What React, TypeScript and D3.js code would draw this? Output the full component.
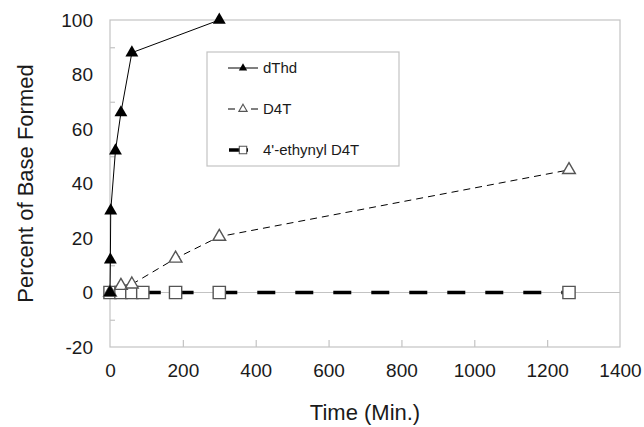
import React, { useEffect, useRef } from "react";
import * as d3 from "d3";

// time in minutes, percent of base formed
const dThdTime = [0, 1, 2, 15, 30, 60, 300];
const dThdValue = [0, 12, 30, 52, 66, 88, 100];

const d4tTime = [0, 30, 60, 180, 300, 1260];
const d4tValue = [0, 2.5, 3, 12.5, 20.5, 45];

const ethynylTime = [0, 30, 60, 90, 180, 300, 1260];
const ethynylValue = [0, 0, 0, 0, 0, 0, 0];

const seriesNames = ["dThd", "D4T", "4'-ethynyl D4T"];

const xTicks = [0, 200, 400, 600, 800, 1000, 1200, 1400];
const yTicks = [-20, 0, 20, 40, 60, 80, 100];
const yMarks = [-10, 10, 30, 50, 70, 90];

const FONT = "'Liberation Sans', Arial, Helvetica, sans-serif";

const App = () => {
  const svgRef = useRef<SVGSVGElement>(null);

  useEffect(() => {
    const width = 644;
    const height = 427;
    const margin = { top: 20, right: 24, bottom: 80, left: 110 };

    const svg = d3.select(svgRef.current);
    svg.selectAll("*").remove();
    svg.attr("width", width).attr("height", height);

    const x = d3.scaleLinear().domain([0, 1400]).range([margin.left, width - margin.right]);
    const y = d3.scaleLinear().domain([-20, 100]).range([height - margin.bottom, margin.top]);

    const frame = "#c3c3c3";

    // plot frame
    svg.append("rect")
      .attr("x", x(0))
      .attr("y", y(100))
      .attr("width", x(1400) - x(0))
      .attr("height", y(-20) - y(100))
      .attr("fill", "white")
      .attr("stroke", frame)
      .attr("stroke-width", 1.2);

    // zero line
    svg.append("line")
      .attr("x1", x(0)).attr("x2", x(1400))
      .attr("y1", y(0)).attr("y2", y(0))
      .attr("stroke", frame)
      .attr("stroke-width", 1.2);

    // inner tick marks
    svg.append("g")
      .attr("transform", `translate(0,${y(-20)})`)
      .call(d3.axisTop(x).tickValues(xTicks.slice(1, -1)).tickSize(7).tickFormat(() => ""))
      .call(g => g.select(".domain").remove())
      .selectAll("line").attr("stroke", frame).attr("stroke-width", 1.2);

    svg.append("g")
      .attr("transform", `translate(${x(0)},0)`)
      .call(d3.axisRight(y).tickValues(yMarks).tickSize(5).tickFormat(() => ""))
      .call(g => g.select(".domain").remove())
      .selectAll("line").attr("stroke", frame).attr("stroke-width", 1.2);

    // tick labels (plain hyphen for negatives)
    const xa = svg.append("g")
      .attr("transform", `translate(0,${y(-20)})`)
      .call(d3.axisBottom(x).tickValues(xTicks).tickSize(0).tickPadding(17).tickFormat(d => String(d)));
    xa.select(".domain").remove();
    xa.selectAll("text").style("font-family", FONT).style("font-size", "19px").attr("fill", "#1a1a1a");

    const ya = svg.append("g")
      .attr("transform", `translate(${x(0)},0)`)
      .call(d3.axisLeft(y).tickValues(yTicks).tickSize(0).tickPadding(17).tickFormat(d => String(d)));
    ya.select(".domain").remove();
    ya.selectAll("text").style("font-family", FONT).style("font-size", "19px").attr("fill", "#1a1a1a");

    // axis titles
    svg.append("text")
      .attr("x", (x(0) + x(1400)) / 2)
      .attr("y", 420)
      .attr("text-anchor", "middle")
      .style("font-family", FONT)
      .style("font-size", "22px")
      .attr("fill", "#1a1a1a")
      .text("Time (Min.)");

    svg.append("text")
      .attr("transform", `translate(33,${(y(100) + y(-20)) / 2}) rotate(-90)`)
      .attr("text-anchor", "middle")
      .style("font-family", FONT)
      .style("font-size", "22px")
      .attr("fill", "#1a1a1a")
      .text("Percent of Base Formed");

    const line = d3.line<[number, number]>().x(d => x(d[0])).y(d => y(d[1]));
    const triangle = (size: number) => d3.symbol().type(d3.symbolTriangle).size(size)();
    const square = (size: number) => d3.symbol().type(d3.symbolSquare).size(size)();

    // 4'-ethynyl D4T: thick dashed, dash restarts at every point
    const ethPts = ethynylTime.map((t, i) => [t, ethynylValue[i]] as [number, number]);
    svg.append("g")
      .selectAll("path")
      .data(d3.pairs(ethPts))
      .enter()
      .append("path")
      .attr("d", d => line(d))
      .attr("fill", "none")
      .attr("stroke", "#000")
      .attr("stroke-width", 3.5)
      .attr("stroke-dasharray", "18 20");

    // D4T: thin dashed
    const d4tPts = d4tTime.map((t, i) => [t, d4tValue[i]] as [number, number]);
    svg.append("path")
      .attr("d", line(d4tPts))
      .attr("fill", "none")
      .attr("stroke", "#000")
      .attr("stroke-width", 1)
      .attr("stroke-dasharray", "7 5");

    // dThd: solid
    const dThdPts = dThdTime.map((t, i) => [t, dThdValue[i]] as [number, number]);
    svg.append("path")
      .attr("d", line(dThdPts))
      .attr("fill", "none")
      .attr("stroke", "#000")
      .attr("stroke-width", 1);

    // markers
    svg.append("g")
      .selectAll("path")
      .data(ethPts)
      .enter()
      .append("path")
      .attr("transform", d => `translate(${x(d[0])},${y(d[1])})`)
      .attr("d", square(150))
      .attr("fill", "white")
      .attr("stroke", "#555")
      .attr("stroke-width", 1.4);

    svg.append("g")
      .selectAll("path")
      .data(d4tPts)
      .enter()
      .append("path")
      .attr("transform", d => `translate(${x(d[0])},${y(d[1])})`)
      .attr("d", triangle(70))
      .attr("fill", "white")
      .attr("stroke", "#555")
      .attr("stroke-width", 1.4);

    svg.append("g")
      .selectAll("path")
      .data(dThdPts)
      .enter()
      .append("path")
      .attr("transform", d => `translate(${x(d[0])},${y(d[1])})`)
      .attr("d", triangle(72))
      .attr("fill", "#000");

    // legend
    const lg = svg.append("g");
    lg.append("rect")
      .attr("x", 207).attr("y", 52)
      .attr("width", 192).attr("height", 114)
      .attr("fill", "white")
      .attr("stroke", frame)
      .attr("stroke-width", 1.2);

    const rowY = [68, 109, 150];
    seriesNames.forEach((name, i) => {
      const ry = rowY[i];
      const row = lg.append("g");
      if (i === 0) {
        row.append("line").attr("x1", 228).attr("x2", 258).attr("y1", ry).attr("y2", ry)
          .attr("stroke", "#000").attr("stroke-width", 1);
        row.append("path").attr("transform", `translate(243,${ry})`).attr("d", triangle(30)).attr("fill", "#000");
      } else if (i === 1) {
        row.append("line").attr("x1", 228).attr("x2", 258).attr("y1", ry).attr("y2", ry)
          .attr("stroke", "#000").attr("stroke-width", 1).attr("stroke-dasharray", "7 16");
        row.append("path").attr("transform", `translate(243,${ry})`).attr("d", triangle(30))
          .attr("fill", "white").attr("stroke", "#555").attr("stroke-width", 1.1);
      } else {
        row.append("line").attr("x1", 229).attr("x2", 248).attr("y1", ry).attr("y2", ry)
          .attr("stroke", "#000").attr("stroke-width", 3.5);
        row.append("path").attr("transform", `translate(243,${ry})`).attr("d", square(55))
          .attr("fill", "white").attr("stroke", "#555").attr("stroke-width", 1.1);
      }
      row.append("text")
        .attr("x", 263).attr("y", ry).attr("dy", "0.35em")
        .style("font-family", FONT)
        .style("font-size", "15px")
        .attr("fill", "#1a1a1a")
        .text(name);
    });
  }, []);

  return (
    <svg ref={svgRef} style={{ position: "absolute", left: 0, top: 0, background: "white" }}></svg>
  );
};

export default App;
